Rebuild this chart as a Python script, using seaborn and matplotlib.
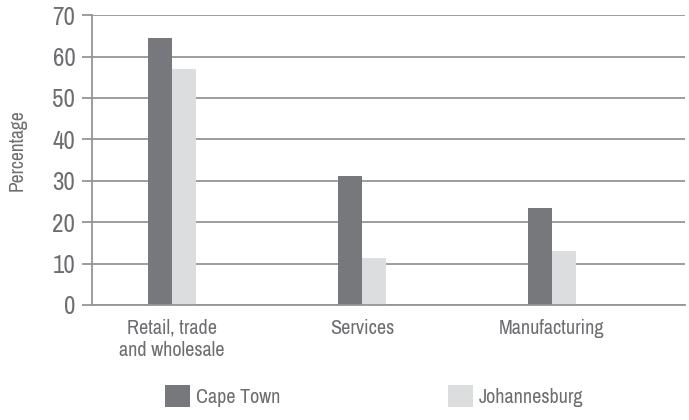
"""
Share of businesses by sector, Cape Town vs Johannesburg.
"""

import pandas as pd
import seaborn as sns
import matplotlib.pyplot as plt
from matplotlib import font_manager

sectors = ["Retail, trade\nand wholesale", "Services", "Manufacturing"]
cities = ["Cape Town", "Johannesburg"]
cape_town = [64.5, 31.2, 23.4]
johannesburg = [57.0, 11.4, 13.0]

y_ticks = [0, 10, 20, 30, 40, 50, 60, 70]

TEXT = "#6d6e71"
GRID = "#939598"
PALETTE = {"Cape Town": "#77787b", "Johannesburg": "#dcdddf"}


def build_frame():
    """ Long-form table for seaborn from the value lists. """
    return pd.DataFrame({
        "Sector": sectors * 2,
        "City": [cities[0]] * 3 + [cities[1]] * 3,
        "Percentage": cape_town + johannesburg,
    })


def narrow_fonts():
    """ Pick any condensed / narrow family that happens to be installed. """
    names = sorted({f.name for f in font_manager.fontManager.ttflist})
    picks = [n for n in names if "Narrow" in n or "Condensed" in n]
    return picks + ["DejaVu Sans"]


def main():
    sns.set_theme(style="white")
    plt.rcParams["font.family"] = narrow_fonts()
    plt.rcParams["font.stretch"] = "condensed"
    plt.rcParams["font.weight"] = "light"

    data = build_frame()
    fig = plt.figure(figsize=(6.89, 4.20), dpi=100)
    ax = fig.add_axes([0.1335, 0.274, 0.994 - 0.1335, 0.964 - 0.274])

    sns.barplot(data=data, x="Sector", y="Percentage", hue="City",
                palette=PALETTE, width=0.25, gap=0, saturation=1,
                linewidth=0, order=sectors, hue_order=cities, ax=ax)

    ax.set_ylim(0, 70)
    ax.set_yticks(y_ticks)
    ax.set_xlim(-0.42, 2.7)
    ax.set_axisbelow(True)
    ax.yaxis.grid(True, color=GRID, linewidth=1.3)
    ax.xaxis.grid(False)

    for side in ["top", "right"]:
        ax.spines[side].set_visible(False)
    for side in ["left", "bottom"]:
        ax.spines[side].set_color(GRID)
        ax.spines[side].set_linewidth(1.3)

    ax.tick_params(axis="y", length=7, width=1.3, color=GRID,
                   labelsize=18, labelcolor=TEXT, pad=5, left=True)
    ax.tick_params(axis="x", length=0, labelsize=14.5, labelcolor=TEXT,
                   pad=10)
    ax.set_xlabel("")
    ax.set_ylabel("Percentage", fontsize=14, color=TEXT)
    ax.yaxis.set_label_coords(-0.11, 0.534)

    handles, labels = ax.get_legend_handles_labels()
    ax.legend_.remove()
    fig.legend(handles, labels, loc="lower left",
               bbox_to_anchor=(0.213, -0.012), ncol=2, frameon=False,
               fontsize=14.5, labelcolor=TEXT, handlelength=1.25,
               handleheight=1.25, handletextpad=0.3, columnspacing=8.3)

    fig.savefig("out.png", dpi=100)


if __name__ == "__main__":
    main()
